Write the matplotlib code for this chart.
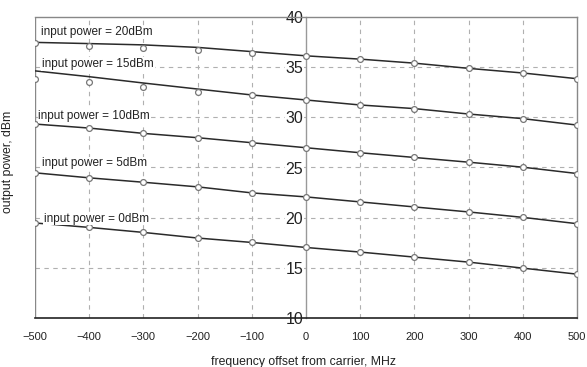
import matplotlib
matplotlib.use("Agg")
import matplotlib.pyplot as plt

plt.rcParams['font.family'] = ['Liberation Sans', 'DejaVu Sans']

freq = [-500, -400, -300, -200, -100, 0, 100, 200, 300, 400, 500]

# measured points (markers)
meas_20 = [37.4, 37.15, 36.95, 36.72, 36.4, 36.13, 35.8, 35.4, 34.9, 34.4, 33.85]
meas_15 = [33.87, 33.57, 33.07, 32.57, 32.2, 31.73, 31.23, 30.87, 30.33, 29.87, 29.23]
meas_10 = [29.33, 28.93, 28.4, 27.97, 27.47, 26.97, 26.47, 26.0, 25.53, 25.03, 24.4]
meas_5 = [24.47, 23.97, 23.53, 23.07, 22.47, 22.07, 21.57, 21.07, 20.57, 20.03, 19.4]
meas_0 = [19.47, 19.03, 18.53, 17.97, 17.53, 17.03, 16.57, 16.07, 15.57, 14.97, 14.37]

# model curves (lines)
line_20 = [37.47, 37.35, 37.22, 36.97, 36.55, 36.13, 35.8, 35.4, 34.88, 34.42, 33.85]
line_15 = [34.63, 34.05, 33.42, 32.82, 32.23, 31.73, 31.23, 30.87, 30.33, 29.87, 29.23]
line_10 = meas_10
line_5 = meas_5
line_0 = meas_0

labels = ["input power = 20dBm", "input power = 15dBm", "input power = 10dBm",
          "input power = 5dBm", "input power = 0dBm"]
label_x = [-489, -487, -494, -487, -484]
label_y = [38.47, 35.3, 30.13, 25.4, 19.9]

yticks = [10, 15, 20, 25, 30, 35, 40]
xticks = [-500, -400, -300, -200, -100, 0, 100, 200, 300, 400, 500]

fig = plt.figure(figsize=(5.87, 3.67), dpi=100)
ax = fig.add_axes([35/587, 1-318/367, 542/587, 301/367])

grid_c = '#b0b0b0'
for x in xticks[1:-1]:
    if x != 0:
        ax.axvline(x, color=grid_c, lw=0.8, ls=(0, (4, 4)), zorder=1)
for y in yticks[1:-1]:
    ax.axhline(y, color=grid_c, lw=0.8, ls=(0, (4, 4)), zorder=1)
ax.axvline(-500, color='#888888', lw=1.0, zorder=2.4)

series = [(line_20, meas_20), (line_15, meas_15), (line_10, meas_10),
          (line_5, meas_5), (line_0, meas_0)]
for ln, ms in series:
    ax.plot(freq, ln, color='#2a2a2a', lw=1.1, zorder=3)
    ax.plot(freq, ms, ls='none', marker='o', ms=4.2, mfc='white', mec='#777777',
            mew=0.9, zorder=4)

for t, x, y in zip(labels, label_x, label_y):
    ax.text(x, y, t, fontsize=8.5, ha='left', va='center', color='#222222', zorder=5,
            bbox=dict(facecolor='white', edgecolor='none', pad=0.5))

ax.set_xlim(-500, 500)
ax.set_ylim(10, 40)
ax.set_xticks(xticks)
ax.set_yticks(yticks)
ax.set_xticklabels([str(v).replace('-', '\u2212') for v in xticks])
ax.set_yticklabels([str(v) for v in yticks])

ax.spines['left'].set_position(('data', 0))
ax.spines['left'].set_color('#999999')
ax.spines['right'].set_color('#888888')
ax.spines['top'].set_color('#888888')
ax.spines['bottom'].set_color('#222222')
for s in ['left', 'right', 'top']:
    ax.spines[s].set_linewidth(1.0)
ax.spines['bottom'].set_linewidth(1.2)

ax.tick_params(axis='y', length=0, pad=2, labelsize=11.5, colors='#222222')
ax.tick_params(axis='x', length=0, pad=10, labelsize=8, colors='#222222')
for lab in ax.get_yticklabels():
    lab.set_bbox(dict(facecolor='white', edgecolor='none', pad=0.3))

fig.text(0.5 + 10/587, 1-362/367, "frequency offset from carrier, MHz", fontsize=8.8,
         ha='center', va='center', color='#222222')
fig.text(8/587, 1-162/367, "output power, dBm", fontsize=8.8, rotation=90,
         ha='center', va='center', color='#222222')

fig.savefig("out.png", dpi=100)
